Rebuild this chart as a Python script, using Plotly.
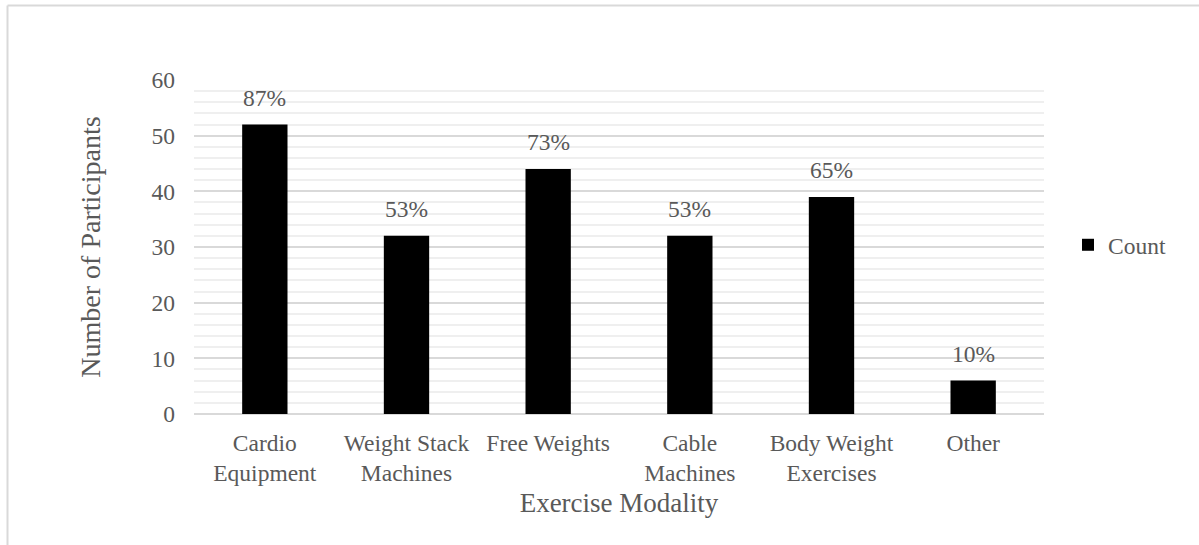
import plotly.graph_objects as go

# Survey results: exercise modalities used by participants
categories = ["Cardio<br>Equipment", "Weight Stack<br>Machines", "Free Weights",
              "Cable<br>Machines", "Body Weight<br>Exercises", "Other"]
counts = [52, 32, 44, 32, 39, 6]
percent_labels = ["87%", "53%", "73%", "53%", "65%", "10%"]
y_ticks = [0, 10, 20, 30, 40, 50, 60]

FONT = "Liberation Serif"
TEXT = "#595959"
FS = 23.5

W, H = 1199, 545
L, R, T, B = 194, 155, 80, 131
pw, ph = W - L - R, H - T - B

fig = go.Figure()
fig.add_trace(go.Bar(
    x=categories, y=counts, name="Count",
    marker=dict(color="#000000", line=dict(width=0)),
))

# Percentage labels above each bar
for c, v, p in zip(categories, counts, percent_labels):
    fig.add_annotation(x=c, y=v, text=p, showarrow=False, yanchor="middle",
                       yshift=27, font=dict(family=FONT, size=FS, color=TEXT))

# Chart-area border (top and left edges)
bx = (7.5 - L) / pw
by = (H - B - 5.5) / ph
fig.add_shape(type="line", xref="paper", yref="paper", x0=bx, x1=1.5, y0=by, y1=by,
              line=dict(color="#d9d9d9", width=2))
fig.add_shape(type="line", xref="paper", yref="paper", x0=bx, x1=bx, y0=by, y1=-1,
              line=dict(color="#d9d9d9", width=2))

fig.update_layout(
    width=W, height=H,
    margin=dict(l=L, r=R, t=T, b=B, autoexpand=False),
    paper_bgcolor="white", plot_bgcolor="white",
    font=dict(family=FONT, size=FS, color=TEXT),
    bargap=0.68,
    showlegend=True,
    legend=dict(x=(1068 - L) / pw, y=(H - B - 245) / ph, xanchor="left", yanchor="middle",
                font=dict(family=FONT, size=FS, color=TEXT), bgcolor="rgba(0,0,0,0)"),
    xaxis=dict(
        showline=False, ticks="", showgrid=False,
        ticklabelstandoff=12,
        tickfont=dict(family=FONT, size=FS, color=TEXT),
        title=dict(text="Exercise Modality", standoff=8,
                   font=dict(family=FONT, size=27, color=TEXT)),
        automargin=False,
    ),
    yaxis=dict(
        range=[0, 60], tickvals=y_ticks, ticks="", showline=False,
        gridcolor="#d9d9d9", gridwidth=1.5,
        zeroline=True, zerolinecolor="#d9d9d9", zerolinewidth=1.5,
        minor=dict(dtick=2, showgrid=True, gridcolor="#efefef", gridwidth=1.5),
        ticklabelstandoff=18,
        tickfont=dict(family=FONT, size=FS, color=TEXT),
        title=dict(text="Number of Participants", standoff=42,
                   font=dict(family=FONT, size=28, color=TEXT)),
        automargin=False,
    ),
)

fig.write_html("out.html")
